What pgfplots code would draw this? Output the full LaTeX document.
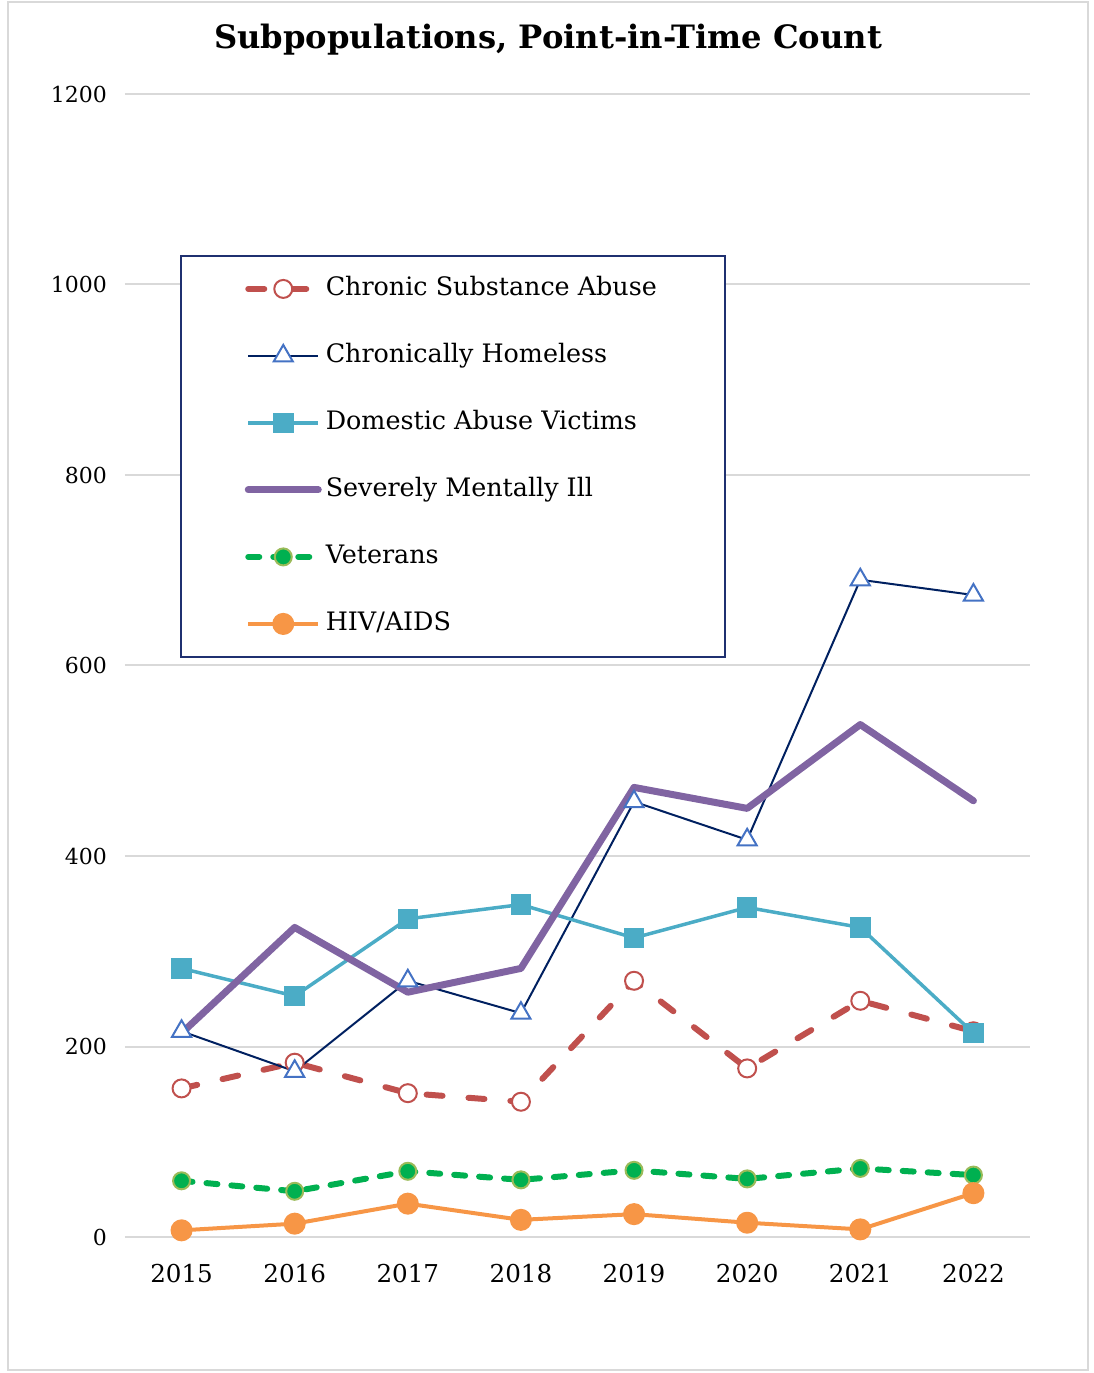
\documentclass[border=0pt]{standalone}
\usepackage{pgfplots}
\pgfplotsset{compat=1.18}
\usepackage{fontspec}
\setmainfont{DejaVu Serif}
\definecolor{cred}{HTML}{C0504D}
\definecolor{cnavy}{HTML}{002060}
\definecolor{ctri}{HTML}{4472C4}
\definecolor{cteal}{HTML}{4BACC6}
\definecolor{cpurple}{HTML}{8064A2}
\definecolor{cgreen}{HTML}{00B050}
\definecolor{cgreenedge}{HTML}{9BBB59}
\definecolor{corange}{HTML}{F79646}
\definecolor{cgrid}{HTML}{D9D9D9}
\definecolor{clegbox}{HTML}{1F3070}
\begin{document}
\begin{tikzpicture}
\begin{axis}[
  scale only axis,
  width=452.5pt, height=571.5pt,
  at={(0pt,0pt)}, anchor=south west,
  xmin=-0.5, xmax=7.5, ymin=0, ymax=1200,
  xtick={0,1,2,3,4,5,6,7},
  xticklabels={2015,2016,2017,2018,2019,2020,2021,2022},
  ytick={0,200,400,600,800,1000,1200},
  yticklabels={0,200,400,600,800,1000,1200},
  axis line style={draw=none},
  major tick style={draw=none},
  ymajorgrids,
  grid style={draw=cgrid, line width=1pt},
  xticklabel style={font=\fontsize{12.3}{14}\selectfont, yshift=-10pt},
  yticklabel style={font=\fontsize{11}{13}\selectfont, xshift=-5.5pt},
  clip=false,
  legend image code/.code={\draw[mark repeat=2,mark phase=2] plot coordinates {(0pt,0pt)(17.5pt,0pt)(35pt,0pt)};},
  legend cell align=left,
  legend style={at={(rel axis cs:0.0608,0.859)}, anchor=north west,
    draw=clegbox, line width=0.75pt,
    inner xsep=32pt, inner ysep=10pt,
    row sep=20.5pt, column sep=0pt,
    nodes={inner xsep=2pt, inner ysep=0pt, text height=10pt, text depth=3pt},
    font=\fontsize{12.7}{15}\selectfont},
]
\addplot[cred, line width=3pt, line cap=round, dash pattern=on 8pt off 13pt,
  mark=*, mark size=4.5pt, mark options={solid, draw=cred, fill=white, line width=1pt}]
  coordinates {(0,156)(1,183)(2,151)(3,142)(4,269)(5,177)(6,248)(7,216)};
\addlegendentry{Chronic Substance Abuse}
\addplot[cnavy, line width=1pt,
  mark=triangle*, mark size=5.5pt, mark options={solid, draw=ctri, fill=white, line width=1pt}]
  coordinates {(0,216)(1,174)(2,269)(3,235)(4,457)(5,417)(6,690)(7,674)};
\addlegendentry{Chronically Homeless}
\addplot[cteal, line width=1.75pt,
  mark=square*, mark size=4.25pt, mark options={solid, draw=cteal, fill=cteal}]
  coordinates {(0,282)(1,253)(2,334)(3,349)(4,314)(5,346)(6,325)(7,214)};
\addlegendentry{Domestic Abuse Victims}
\addplot[cpurple, line width=3.5pt, line join=round, line cap=round]
  coordinates {(0,214)(1,325)(2,257)(3,282)(4,472)(5,450)(6,538)(7,458)};
\addlegendentry{Severely Mentally Ill}
\addplot[cgreen, line width=3pt, line cap=round, dash pattern=on 5.5pt off 7pt,
  mark=*, mark size=4.25pt, mark options={solid, draw=cgreenedge, fill=cgreen, line width=1pt}]
  coordinates {(0,59)(1,48)(2,69)(3,60)(4,70)(5,61)(6,72)(7,65)};
\addlegendentry{Veterans}
\addplot[corange, line width=2pt, line join=round,
  mark=*, mark size=4.5pt, mark options={solid, draw=corange, fill=corange}]
  coordinates {(0,7)(1,14)(2,35)(3,18)(4,24)(5,15)(6,8)(7,46)};
\addlegendentry{HIV/AIDS}
\end{axis}
\node[font=\bfseries\fontsize{16.1}{19}\selectfont] at (211.5pt,598.5pt) {Subpopulations, Point-in-Time Count};
\draw[cgrid, line width=0.75pt] (-58.5pt,-66.5pt) rectangle (481.5pt,617.5pt);
\pgfresetboundingbox
\useasboundingbox (-62.5pt,-68pt) rectangle (484.5pt,618.5pt);
\end{tikzpicture}
\end{document}
